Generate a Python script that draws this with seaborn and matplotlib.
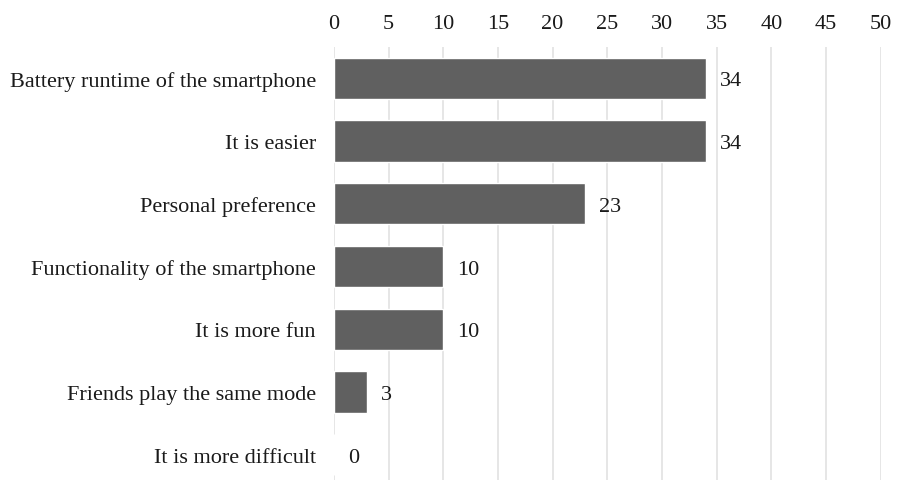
import matplotlib
matplotlib.use("Agg")
import matplotlib.pyplot as plt
import pandas as pd
import seaborn as sns

# data
categories = [
    "Battery runtime of the smartphone",
    "It is easier",
    "Personal preference",
    "Functionality of the smartphone",
    "It is more fun",
    "Friends play the same mode",
    "It is more difficult",
]
counts = [34, 34, 23, 10, 10, 3, 0]
x_ticks = [0, 5, 10, 15, 20, 25, 30, 35, 40, 45, 50]

df = pd.DataFrame({"Reason": categories, "Count": counts})

sns.set_theme(style="white")
plt.rcParams['font.family'] = ['Liberation Serif', 'DejaVu Serif']

fig = plt.figure(figsize=(8.99, 4.81), dpi=100)
ax = fig.add_axes([0.3715, -0.0125, 0.608, 0.9127])

sns.barplot(data=df, x="Count", y="Reason", color="#606060", saturation=1,
            width=0.66, ax=ax)

ax.set_xlim(0, 50)
ax.set_ylim(6.5, -0.5)
ax.set_xticks(x_ticks)
ax.xaxis.tick_top()
ax.set_xlabel("")
ax.set_ylabel("")
ax.tick_params(axis="x", labelsize=16, length=0, pad=10, colors="#1a1a1a")
ax.tick_params(axis="y", labelsize=16, length=0, pad=13, colors="#1a1a1a")
ax.grid(axis="x", color="#e2e2e2", linewidth=1.2)
ax.set_axisbelow(True)
for s in ax.spines.values():
    s.set_visible(False)

# value labels
for i, v in enumerate(counts):
    ax.annotate(f"{v}", (v, i), xytext=(10, 0), textcoords="offset points",
                ha="left", va="center_baseline", fontsize=16, color="#1a1a1a")

fig.savefig("out.png", dpi=100)
